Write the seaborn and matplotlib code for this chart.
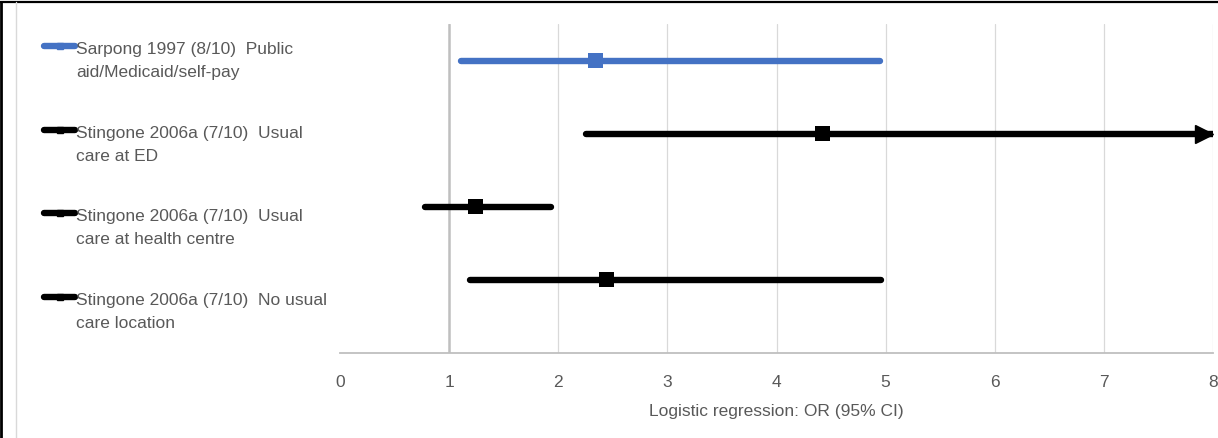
import numpy as np
import pandas as pd
import matplotlib.pyplot as plt
import seaborn as sns
from matplotlib.lines import Line2D

# -------------------- data --------------------
labels = [
    "Sarpong 1997 (8/10)  Public\naid/Medicaid/self-pay",
    "Stingone 2006a (7/10)  Usual\ncare at ED",
    "Stingone 2006a (7/10)  Usual\ncare at health centre",
    "Stingone 2006a (7/10)  No usual\ncare location",
]
or_est = [2.34, 4.42, 1.24, 2.44]
ci_low = [1.11, 2.25, 0.78, 1.19]
ci_high = [4.95, 8.0, 1.93, 4.96]
row_y = [4, 3, 2, 1]
colors = ["#4472C4", "#000000", "#000000", "#000000"]
truncated = [False, True, False, False]   # CI runs off the axis -> arrow

W, H = 1218, 439
GREY_TXT = "#595959"
FS = 12.5

sns.set_theme(style="white")
plt.rcParams["font.family"] = ["Liberation Sans", "DejaVu Sans"]

ci_df = pd.DataFrame({
    "study": np.repeat(labels, 2),
    "x": np.ravel(np.column_stack([ci_low, ci_high])),
    "y": np.repeat(row_y, 2),
})
pt_df = pd.DataFrame({"study": labels, "x": or_est, "y": row_y})
pal = dict(zip(labels, colors))

fig = plt.figure(figsize=(W / 100, H / 100), dpi=100)
ax = fig.add_axes([340 / W, 1 - 354 / H, (1213 - 340) / W, (354 - 25) / H])

# grid
for v in range(1, 9):
    if v == 1:
        ax.axvline(v, color="#bfbfbf", lw=1.8, zorder=0)
    else:
        ax.axvline(v, color="#d9d9d9", lw=0.9, zorder=0)

sns.lineplot(data=ci_df, x="x", y="y", hue="study", palette=pal, units="study",
             estimator=None, sort=False, lw=4.6, solid_capstyle="round",
             legend=False, ax=ax, zorder=3)
sns.scatterplot(data=pt_df, x="x", y="y", hue="study", palette=pal, marker="s",
                s=120, linewidth=0, legend=False, ax=ax, zorder=4)

# arrow heads for truncated CIs
for yy, c, t in zip(row_y, colors, truncated):
    if t:
        ax.plot([7.92], [yy], marker=">", ms=13, color=c, clip_on=False, zorder=5)

ax.set_xlim(0, 8)
ax.set_ylim(0, 4.5)
ax.set_yticks([])
ax.set_xticks(range(0, 9))
ax.tick_params(axis="x", length=0, pad=15, labelsize=FS, labelcolor=GREY_TXT)
ax.set_xlabel("Logistic regression: OR (95% CI)", fontsize=FS, color=GREY_TXT, labelpad=10)
ax.set_ylabel("")
for s in ["top", "right", "left"]:
    ax.spines[s].set_visible(False)
ax.spines["bottom"].set_color("#bfbfbf")
ax.spines["bottom"].set_linewidth(1.3)

# legend on the left, drawn by hand
leg_y = [47, 131, 214, 298]
for lab, c, ly in zip(labels, colors, leg_y):
    fy = 1 - ly / H
    fig.add_artist(Line2D([44 / W, 75 / W], [fy, fy], color=c, lw=4.6,
                          solid_capstyle="round", transform=fig.transFigure))
    fig.add_artist(Line2D([60 / W], [fy], color=c, marker="s", ms=4,
                          transform=fig.transFigure))
    fig.text(76 / W, 1 - (ly + 14) / H, lab, fontsize=FS, color=GREY_TXT,
             va="center", ha="left", linespacing=1.6)

# outer frame bits
fig.add_artist(Line2D([0, 1], [1 - 3 / H, 1 - 3 / H], color="black", lw=1.6,
                      transform=fig.transFigure))
fig.add_artist(Line2D([1 / W, 1 / W], [0, 1 - 3 / H], color="black", lw=2,
                      transform=fig.transFigure))
fig.add_artist(Line2D([15.5 / W, 15.5 / W], [0, 1 - 3 / H], color="#d9d9d9", lw=1,
                      transform=fig.transFigure))

fig.savefig("out.png", dpi=100)
